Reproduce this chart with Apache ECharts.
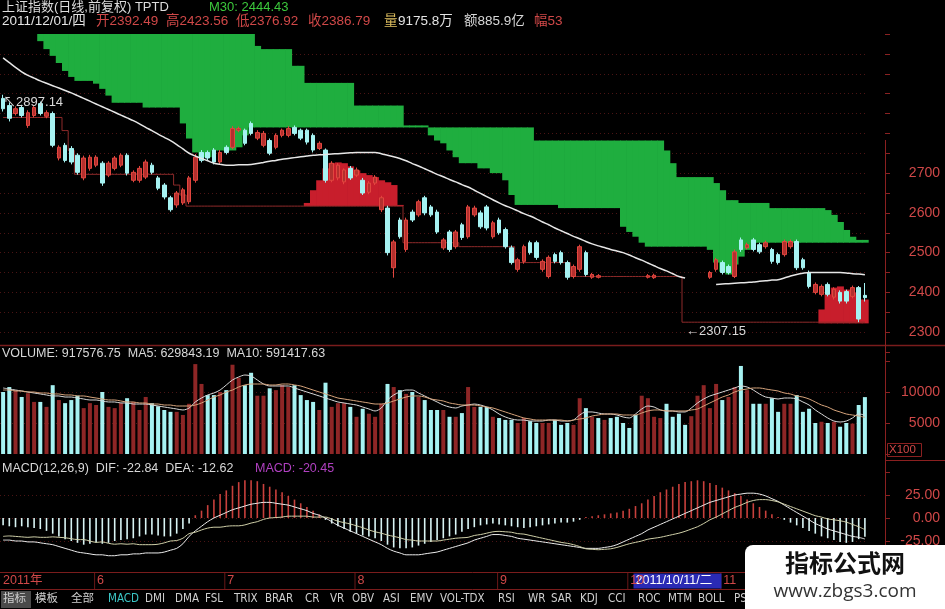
<!DOCTYPE html>
<html><head><meta charset="utf-8">
<script src="https://cdn.jsdelivr.net/npm/echarts@6/dist/echarts.min.js"></script>
<style>html,body{margin:0;padding:0;background:#000;}#c{width:945px;height:609px;}</style>
</head><body><div id="c"></div>
<script>
const N = 140;
// ---- price candles (index 0 .. 139, mid-May 2011 .. 2011/12/01) ----
const opens = [2888,2870,2850,2865,2820,2845,2875,2843,2850,2738,
 2770,2762,2745,2688,2712,2720,2725,2695,2712,2720,
 2745,2682,2682,2690,2720,2688,2670,2638,2620,2625,
 2628,2682,2752,2752,2758,2728,2765,2765,2808,2808,
 2825,2788,2770,2782,2765,2795,2795,2815,2808,2808,
 2795,2762,2758,2682,2688,2678,2712,2695,2682,2652,
 2675,2608,2612,2462,2582,2508,2602,2595,2638,2615,
 2602,2512,2552,2515,2570,2540,2595,2600,2615,2540,
 2582,2558,2512,2458,2478,2525,2525,2458,2440,2495,
 2500,2475,2440,2458,2500,2438,2438,null,null,null,
 null,null,null,null,2438,2437,null,null,null,null,
 null,null,null,null,2438,2458,2475,2465,2440,2532,
 2512,2532,2520,2515,2508,2495,2495,2515,2528,2482,
 2450,2400,2395,2420,2388,2400,2402,2390,2412,2392.49];
const closes = [2862,2838,2862,2845,2852,2865,2850,2852,2770,2765,
 2732,2728,2702,2738,2740,2740,2675,2725,2738,2745,
 2700,2702,2712,2728,2702,2662,2640,2608,2650,2658,
 2688,2740,2732,2738,2728,2752,2752,2812,2812,2775,
 2800,2802,2800,2750,2795,2808,2812,2800,2788,2778,
 2758,2775,2682,2725,2720,2708,2688,2708,2650,2675,
 2690,2638,2500,2527,2540,2582,2582,2628,2600,2595,
 2552,2532,2508,2552,2538,2615,2612,2565,2562,2575,
 2550,2515,2475,2482,2515,2500,2488,2478,2488,2478,
 2475,2438,2465,2515,2445,2445,2442,null,null,null,
 null,null,null,null,2442,2443,null,null,null,null,
 null,null,null,null,2450,2482,2450,2450,2502,2508,
 2520,2508,2502,2525,2478,2475,2528,2528,2462,2462,
 2415,2420,2415,2395,2408,2378,2378,2412,2333,2386.79];
const lows = [2855,2830,2845,2840,2814,2840,2845,2838,2765,2732,
 2727,2722,2696,2682,2706,2715,2668,2690,2707,2715,
 2694,2677,2676,2685,2697,2657,2634,2603,2613,2620,
 2622,2676,2727,2732,2722,2722,2747,2760,2803,2770,
 2795,2783,2765,2745,2760,2790,2790,2795,2783,2772,
 2752,2758,2676,2677,2682,2672,2683,2690,2645,2647,
 2670,2602,2493,2437,2535,2502,2577,2590,2594,2590,
 2547,2507,2502,2510,2532,2535,2590,2560,2556,2535,
 2545,2510,2470,2452,2472,2495,2482,2452,2435,2473,
 2470,2432,2435,2452,2440,2434,2435,null,null,null,
 null,null,null,null,2435,2434,null,null,null,null,
 null,null,null,null,2434,2452,2445,2445,2436,2502,
 2508,2503,2497,2510,2472,2470,2490,2510,2456,2457,
 2410,2395,2390,2390,2382,2372,2372,2385,2325,2376.92];
const highs = [2897.14,2878,2868,2872,2858,2870,2880,2858,2855,2770,
 2776,2768,2750,2744,2746,2745,2730,2730,2743,2750,
 2750,2707,2718,2734,2726,2693,2675,2643,2655,2663,
 2693,2748,2758,2757,2763,2758,2770,2818,2817,2812,
 2830,2808,2806,2787,2800,2812,2818,2820,2812,2812,
 2800,2780,2762,2730,2725,2712,2718,2714,2688,2680,
 2695,2643,2618,2532,2588,2588,2608,2633,2643,2620,
 2608,2537,2557,2557,2575,2620,2618,2606,2620,2580,
 2588,2563,2518,2487,2520,2530,2530,2483,2493,2500,
 2505,2480,2470,2520,2505,2449,2446,null,null,null,
 null,null,null,null,2446,2447,null,null,null,null,
 null,null,null,null,2454,2487,2480,2470,2508,2538,
 2525,2537,2525,2530,2512,2500,2533,2533,2533,2487,
 2455,2425,2420,2425,2413,2405,2407,2417,2416,2423.56];
// ---- M30 line ----
const m30 = [2990,2978,2966,2955,2946,2939,2932,2926,2920,2914,
 2908,2902,2895,2888,2881,2874,2867,2860,2853,2846,
 2839,2832,2824,2815,2807,2798,2790,2782,2772,2761,
 2750,2743,2737,2731,2725,2722,2720,2720,2721,2721,
 2722,2724,2727,2730,2732,2735,2737,2739,2741,2743,
 2745,2746,2747,2748,2749,2750,2751,2752,2752,2752,
 2752,2749,2745,2741,2737,2731,2724,2718,2711,2704,
 2697,2691,2684,2678,2671,2665,2657,2649,2641,2633,
 2625,2618,2612,2605,2598,2592,2585,2577,2570,2562,
 2555,2548,2541,2535,2528,2522,2517,2513,2508,2504,
 2500,2494,2487,2481,2474,2467,2460,2454,2447,2440,
 2436,null,null,null,null,2420,2421,2422,2423,2424,
 2425,2426,2428,2429,2431,2432,2436,2441,2445,2448,
 2450,2450,2450,2450,2450,2450,2449,2447,2446,2444.43];
// ---- stepped base line (red-brown) ----
const baseLine = [2840,2840,2840,2840,2840,2840,2840,2840,2840,2840,
 2807,2757,2697,2697,2697,2697,2697,2697,2697,2697,
 2697,2697,2697,2697,2697,2697,2697,2697,2670,2645,
 2617,2617,2617,2617,2617,2617,2617,2617,2617,2617,
 2617,2617,2617,2617,2617,2617,2617,2617,2617,2617,
 2617,2617,2617,2617,2617,2617,2617,2617,2617,2617,
 2617,2617,2617,2617,2617,2525,2525,2525,2525,2525,
 2525,2525,2525,2525,2515,2515,2515,2515,2515,2515,
 2515,2515,2515,2475,2475,2475,2475,2475,2475,2475,
 2475,2475,2440,2440,2440,2440,2440,2440,2440,2440,
 2440,2440,2440,2440,2440,2440,2440,2440,2440,2440,
 2325,2325,2325,2325,2325,2325,2325,2325,2325,2325,
 2325,2325,2325,2325,2325,2325,2325,2325,2325,2325,
 2325,2325,2325,2325,2325,2325,2325,2325,2325,2325];
// ---- green band (upper / lower edge) ----
const greenTop = [null,null,null,null,null,null,3050,3050,3050,3050,
 3050,3050,3050,3050,3050,3050,3050,3050,3050,3050,
 3050,3050,3050,3050,3050,3050,3050,3050,3050,3050,
 3050,3050,3050,3050,3050,3050,3050,3050,3050,3050,
 3050,3020,3012,3012,3012,3012,3012,2970,2970,2927,
 2927,2927,2927,2927,2927,2927,2927,2870,2870,2870,
 2870,2870,2870,2870,2870,2820,2820,2820,2820,2815,
 2815,2815,2815,2815,2815,2815,2815,2815,2815,2815,
 2815,2815,2815,2815,2815,2815,2782,2782,2782,2782,
 2782,2782,2782,2782,2782,2782,2782,2782,2782,2782,
 2782,2782,2782,2782,2782,2782,2782,2757,2725,2690,
 2690,2690,2690,2690,2690,2675,2657,2632,2632,2625,
 2625,2625,2625,2625,2612,2612,2612,2612,2612,2612,
 2612,2612,2612,2607,2595,2577,2557,2540,2532,2532];
const greenBot = [null,null,null,null,null,null,3032,3012,2995,2977,
 2957,2942,2932,2932,2932,2925,2912,2895,2877,2877,
 2877,2877,2877,2865,2865,2865,2865,2865,2865,2825,
 2787,2752,2740,2740,2757,2757,2757,2757,2765,2795,
 2815,2815,2815,2815,2815,2815,2815,2815,2815,2815,
 2815,2815,2815,2815,2815,2815,2815,2815,2815,2815,
 2815,2815,2815,2815,2815,2815,2815,2815,2815,2795,
 2782,2775,2757,2740,2725,2725,2725,2712,2712,2700,
 2700,2682,2645,2620,2620,2620,2620,2620,2620,2620,
 2612,2612,2612,2612,2612,2612,2612,2612,2612,2612,
 2565,2552,2540,2525,2515,2515,2515,2515,2515,2515,
 2515,2515,2515,2515,2507,2475,2452,2445,2470,2490,
 2507,2525,2525,2525,2525,2525,2525,2525,2525,2525,
 2525,2525,2525,2525,2525,2525,2525,2525,2525,2525];
// ---- red band ----
const redTop = [null,null,null,null,null,null,null,null,null,null,
 null,null,null,null,null,null,null,null,null,null,
 null,null,null,null,null,null,null,null,null,null,
 null,null,null,null,null,null,null,null,null,null,
 null,null,null,null,null,null,null,null,null,2625,
 2657,2682,2712,2725,2727,2725,2717,2707,2700,2695,
 2690,2682,2677,2670,2620,null,null,null,null,null,
 null,null,null,null,null,null,null,null,null,null,
 null,null,null,null,null,null,null,null,null,null,
 null,null,null,null,null,null,null,null,null,null,
 null,null,null,null,null,null,null,null,null,null,
 null,null,null,null,null,null,null,null,null,null,
 null,null,null,null,null,null,null,null,null,null,
 null,null,2357,2395,2412,2415,2407,2400,2382,2382];
const redBot = [null,null,null,null,null,null,null,null,null,null,
 null,null,null,null,null,null,null,null,null,null,
 null,null,null,null,null,null,null,null,null,null,
 null,null,null,null,null,null,null,null,null,null,
 null,null,null,null,null,null,null,null,null,2617,
 2617,2617,2617,2617,2617,2617,2617,2617,2617,2617,
 2617,2617,2617,2617,2617,null,null,null,null,null,
 null,null,null,null,null,null,null,null,null,null,
 null,null,null,null,null,null,null,null,null,null,
 null,null,null,null,null,null,null,null,null,null,
 null,null,null,null,null,null,null,null,null,null,
 null,null,null,null,null,null,null,null,null,null,
 null,null,null,null,null,null,null,null,null,null,
 null,null,2322,2322,2322,2322,2322,2322,2322,2322];
// ---- volume (x100) ----
const vols = [10000,10800,10300,9200,9800,8400,8400,7600,11100,8700,
 8200,8700,9400,7400,8200,7900,10000,7600,7400,8200,
 9000,8400,7100,9200,8200,7700,7100,6800,6800,6300,
 8100,14500,11300,9500,9500,10000,10300,14400,12300,11100,
 13100,9400,9400,10600,10300,11100,10800,11100,9500,8700,
 8400,7100,11500,7600,8200,8200,7600,6000,7300,6500,
 6000,8100,11300,10800,10300,9700,10000,9200,8700,7100,
 7100,7100,6000,6000,6600,10800,7600,7600,7600,6000,
 5800,5500,5500,5000,5800,5300,5000,5000,5000,5500,
 4700,5000,4700,9000,7400,6000,5800,5500,5800,6000,
 5000,4200,6300,9400,9000,6000,5800,8100,6000,6500,
 4700,6100,9400,11100,7400,11300,8700,9200,10800,14200,
 10300,8100,8100,8100,9000,6800,8100,8100,9500,6800,
 7300,5000,5200,5000,5200,4400,5000,4900,7900,9175.77];
const volUp = [0,0,1,0,1,1,0,1,0,1, 0,0,0,1,1,1,0,1,1,1, 0,1,1,1,0,0,0,0,1,1,
 1,1,1,0,0,1,0,1,1,0, 0,1,1,0,1,1,1,0,0,0, 0,1,0,1,1,1,0,1,0,1,
 1,1,0,1,0,1,0,1,0,0, 0,1,0,1,0,1,1,0,0,1, 0,0,0,1,1,0,0,1,1,0,
 0,0,1,1,0,1,0,1,0,0, 0,0,0,1,1,1,1,0,0,0, 0,1,1,1,1,1,0,1,1,0,
 1,0,0,1,0,0,1,1,0,0, 0,0,1,0,1,0,0,1,0,0];
const volMa5 = [10650,10480,10320,10160,10000,9840,9680,9520,9360,9360,
 9190,9190,9030,8870,8710,8710,8550,8390,8390,8230,
 8230,8060,8060,8060,7900,7740,7580,7420,7260,7100,
 7420,8390,9030,9520,9840,10320,11130,11940,12420,12740,
 12580,11940,11290,10970,10970,10970,10970,10650,10320,10000,
 9680,9360,9030,8710,8390,8230,8060,7900,7580,7260,
 6940,7420,8710,9520,10000,10320,10320,9840,9360,8870,
 8390,7900,7580,7420,7740,7900,8060,7900,7580,7100,
 6450,5970,5650,5480,5480,5320,5320,5320,5480,5480,
 5320,5320,5480,6290,6780,6780,6610,6450,6450,6290,
 5970,5810,6450,7260,7740,7580,7100,6940,6940,6780,
 6780,7420,8230,8870,9360,9680,10000,10320,10650,10970,
 10810,10320,9680,9190,9030,8870,9030,9030,8870,8390,
 7900,7100,6450,5810,5320,5160,5320,5810,6450,6298.43];
const volMa10 = [10320,10320,10160,10160,10000,10000,9840,9840,9680,9680,
 9520,9520,9360,9360,9190,9030,8870,8710,8710,8550,
 8390,8390,8230,8230,8060,8060,7900,7900,7740,7740,
 7740,7900,8230,8710,9190,9520,10000,10320,10810,11130,
 11290,11290,11290,11130,11130,11290,11290,11130,10970,10650,
 10320,10000,9680,9360,9030,8870,8710,8550,8390,8230,
 8060,8060,8230,8550,8870,9190,9360,9360,9190,8870,
 8710,8550,8230,8060,7900,7900,7900,7740,7580,7420,
 7100,6780,6450,6130,5810,5650,5480,5480,5480,5480,
 5480,5320,5480,5650,5810,6130,6290,6450,6450,6450,
 6290,6290,6290,6610,6940,7100,7100,6940,6940,6940,
 6940,7100,7260,7740,8230,8710,9190,9520,10000,10320,
 10480,10650,10650,10480,10320,10160,9840,9680,9360,9190,
 8870,8390,7900,7580,7100,6780,6450,6290,6130,5914.18];
// ---- MACD(12,26,9) ----
const macdHist = [-8,-9,-10,-9,-10,-11,-12,-14,-17,-20,
 -23,-25,-27,-29,-28,-27,-28,-27,-25,-24,
 -23,-22,-20,-18,-18,-19,-20,-20,-17,-12,
 -6,3,8,14,20,26,30,35,39,41,
 41,40,37,34,31,28,24,20,16,12,
 8,4,-2,-6,-9,-12,-15,-17,-19,-20,
 -22,-25,-29,-32,-33,-33,-32,-30,-28,-26,
 -24,-22,-20,-18,-15,-12,-10,-8,-7,-6,
 -7,-8,-9,-10,-11,-10,-9,-8,-7,-6,
 -5,-5,-4,-2,1,2,3,4,5,6,
 8,10,13,16,20,24,28,31,34,37,
 39,40,41,40,38,36,33,30,27,24,
 20,16,12,8,4,1,-2,-5,-8,-11,
 -14,-17,-20,-22,-24,-26,-27,-26,-23,-20.45];
const dif = [-24,-24,-25,-25,-26,-26,-27,-28,-29,-31,
 -33,-35,-37,-38,-39,-40,-40,-41,-41,-40,
 -40,-39,-39,-38,-38,-38,-37,-35,-33,-28,
 -20,-14,-9,-4,0,3,6,9,11,13,
 15,16,17,17,16,15,14,12,10,8,
 5,3,0,-4,-8,-11,-14,-17,-20,-23,
 -26,-29,-33,-36,-38,-40,-40,-40,-39,-38,
 -37,-35,-33,-31,-29,-27,-24,-22,-20,-18,
 -18,-19,-20,-22,-23,-24,-25,-26,-27,-28,
 -29,-30,-31,-32,-33,-33,-33,-32,-31,-29,
 -26,-23,-20,-17,-13,-10,-7,-4,-1,2,
 5,8,11,14,17,19,21,23,25,26,
 27,27,26,24,21,18,14,10,6,2,
 -2,-6,-9,-12,-14,-16,-18,-20,-21,-22.84];
const dea = [-20,-19.5,-20,-20.5,-21,-20.5,-21,-21,-20.5,-21,
 -21.5,-22.5,-23.5,-23.5,-25,-26.5,-26,-27.5,-28.5,-28,
 -28.5,-28,-29,-29,-29,-28.5,-27,-25,-24.5,-22,
 -17,-15.5,-13,-11,-10,-10,-9,-8.5,-8.5,-7.5,
 -5.5,-4,-1.5,0,0.5,1,2,2,2,2,
 1,1,1,-1,-3.5,-5,-6.5,-8.5,-10.5,-13,
 -15,-16.5,-18.5,-20,-21.5,-23.5,-24,-25,-25,-25,
 -25,-24,-23,-22,-21.5,-21,-19,-18,-16.5,-15,
 -14.5,-15,-15.5,-17,-17.5,-19,-20.5,-22,-23.5,-25,
 -26.5,-27.5,-29,-31,-33.5,-34,-34.5,-34,-33.5,-32,
 -30,-28,-26.5,-25,-23,-22,-21,-19.5,-18,-16.5,
 -14.5,-12,-9.5,-6,-2,1,4.5,8,11.5,14,
 17,19,20,20,19,17.5,15,12.5,10,7.5,
 5,2.5,1,-1,-2,-3,-4.5,-7,-9.5,-12.62];
// ---- axis / label texts ----
const monthMarks = [[0,'2011年'],[15,'6'],[36,'7'],[57,'8'],[80,'9'],[101,'10'],[116,'11']];
const cursorMark = [102,'2011/10/11/二'];
const tabs = [['指标',3],['模板',35],['全部',71],['MACD',108],['DMI',145],['DMA',175],['FSL',205],['TRIX',234],['BRAR',265],['CR',305],['VR',330],['OBV',352],['ASI',383],['EMV',410],['VOL-TDX',440],['RSI',498],['WR',528],['SAR',551],['KDJ',580],['CCI',608],['ROC',638],['MTM',668],['BOLL',698],['PS',734]];
const highMark = [0, 2897.14];
const lowMark = [110, 2307.15];

const FONT = "'Liberation Sans','Noto Sans CJK SC',sans-serif";
const RED_TXT = '#d04848';
const cats = Array.from({length:N},(_,i)=>String(i));
const candleData = opens.map((o,i)=> o==null ? '-' : [o, closes[i], lows[i], highs[i]]);

function band(tops, bots, color){
  const data=[];
  for(let i=0;i<N;i++) if(tops[i]!=null && bots[i]!=null) data.push([i,tops[i],bots[i]]);
  return {type:'custom', xAxisIndex:0, yAxisIndex:0, z:1, silent:true, data,
    encode:{x:0,y:[1,2]},
    renderItem(params, api){
      const a=api.coord([api.value(0),api.value(1)]);
      const b=api.coord([api.value(0),api.value(2)]);
      const w=api.size([1,0])[0];
      return {type:'rect', shape:{x:a[0]-w/2, y:Math.min(a[1],b[1]), width:w+0.7, height:Math.abs(b[1]-a[1])}, style:{fill:color}};
    }};
}
function dimCols(n, first, last){ const a=[]; for(let i=0;i<n;i++) a.push((i===0&&first)||(i===n-1&&last)?'rgba(0,0,0,0)':'#4a1414'); return a; }

const chart = echarts.init(document.getElementById('c'), null, {renderer:'canvas'});
const option = {
  backgroundColor:'#000', animation:false,
  grid:[
    {left:0, width:868, top:34, height:318, containLabel:false, outerBoundsMode:'none'},
    {left:0, width:868, top:361, height:93, containLabel:false, outerBoundsMode:'none'},
    {left:0, width:868, top:472, height:92, containLabel:false, outerBoundsMode:'none'}
  ],
  xAxis:[0,1,2].map(g=>({type:'category', gridIndex:g, data:cats, boundaryGap:true, show:false})),
  yAxis:[
    {gridIndex:0, position:'right', offset:17, min:2250, max:3050, interval:50, scale:true,
     axisLine:{show:false}, axisTick:{show:true, length:5, lineStyle:{color:'#8a2222'}},
     axisLabel:{color:RED_TXT, fontSize:14, fontFamily:FONT, align:'right', margin:55,
       formatter:v=>(v>=2300&&v<=2700&&v%100===0)?String(v):''},
     splitLine:{show:true, lineStyle:{type:[1,3], color:dimCols(17,true,true)}}},
    {gridIndex:1, position:'right', offset:17, min:0, max:15000, interval:5000,
     axisLine:{show:false}, axisTick:{show:true, length:5, lineStyle:{color:'#8a2222'}},
     axisLabel:{color:RED_TXT, fontSize:14, fontFamily:FONT, align:'right', margin:55,
       formatter:v=>(v===5000||v===10000)?String(v):''},
     splitLine:{show:true, lineStyle:{type:[1,3], color:dimCols(4,true,true)}}},
    {gridIndex:2, position:'right', offset:17, min:-50, max:50, interval:25,
     axisLine:{show:false}, axisTick:{show:true, length:5, lineStyle:{color:'#8a2222'}},
     axisLabel:{color:RED_TXT, fontSize:14, fontFamily:FONT, align:'right', margin:55,
       formatter:v=>(Math.abs(v)<=25)?v.toFixed(2):''},
     splitLine:{show:true, lineStyle:{type:[1,3], color:dimCols(5,true,true)}}}
  ],
  series:[
    band(greenTop, greenBot, '#1fae3f'),
    band(redTop, redBot, '#c81e2c'),
    {type:'line', xAxisIndex:0, yAxisIndex:0, data:baseLine, step:'middle', symbol:'none', z:3,
     lineStyle:{color:'#8e2a2a', width:1}},
    {type:'candlestick', xAxisIndex:0, yAxisIndex:0, data:candleData, barWidth:4, z:5,
     itemStyle:{color:'#b3302e', color0:'#a6f2f2', borderColor:'#e2463f', borderColor0:'#a6f2f2', borderWidth:1}},
    {type:'line', xAxisIndex:0, yAxisIndex:0, data:m30, symbol:'none', z:6, smooth:0.3,
     lineStyle:{color:'#e6e6e6', width:1.5}},
    {type:'bar', xAxisIndex:1, yAxisIndex:1, data:vols, barWidth:4, z:3,
     itemStyle:{color:p=>volUp[p.dataIndex]?'#8e2626':'#a6f2f2'}},
    {type:'line', xAxisIndex:1, yAxisIndex:1, data:volMa5, symbol:'none', z:4, smooth:0.3,
     lineStyle:{color:'#d8d8d8', width:1}},
    {type:'line', xAxisIndex:1, yAxisIndex:1, data:volMa10, symbol:'none', z:4, smooth:0.3,
     lineStyle:{color:'#d6a47c', width:1}},
    {type:'bar', xAxisIndex:2, yAxisIndex:2, data:macdHist, barWidth:1.6, z:3,
     itemStyle:{color:p=>p.value>=0?'#c8403c':'#d8f4f4'}},
    {type:'line', xAxisIndex:2, yAxisIndex:2, data:dif, symbol:'none', z:4, smooth:0.3,
     lineStyle:{color:'#ececec', width:1}},
    {type:'line', xAxisIndex:2, yAxisIndex:2, data:dea, symbol:'none', z:4, smooth:0.3,
     lineStyle:{color:'#cfcfa8', width:1}}
  ]
};
chart.setOption(option);

function T(x,y,text,fill,size,extra){
  return Object.assign({type:'text', x, y, z:100, silent:true,
    style:Object.assign({text, fill, font:size+'px '+FONT, verticalAlign:'top', textVerticalAlign:'top'}, (extra&&extra.style)||{})},
    extra&&extra.el||{});
}
function L(x1,y1,x2,y2,stroke,w){ return {type:'line', z:90, silent:true, shape:{x1,y1,x2,y2}, style:{stroke, lineWidth:w||1}}; }

const els = [];
// header
els.push(T(2,1,'上证指数(日线,前复权) TPTD','#dcdcdc',13));
els.push(T(209,1,'M30: 2444.43','#3cc83c',13));
els.push(T(2,15,'2011/12/01/四','#e4e4e4',13.5));
els.push(T(96,15,'开2392.49',RED_TXT,13.5));
els.push(T(166,15,'高2423.56',RED_TXT,13.5));
els.push(T(236,15,'低2376.92',RED_TXT,13.5));
els.push(T(308,15,'收2386.79',RED_TXT,13.5));
els.push(T(384,15,'量','#e0c060',13.5));
els.push(T(398,15,'9175.8万','#e4e4e4',13.5));
els.push(T(464,15,'额885.9亿','#d8d8d8',13.5));
els.push(T(534,15,'幅53',RED_TXT,13.5));
// pane titles
els.push(T(2,347,'VOLUME: 917576.75  MA5: 629843.19  MA10: 591417.63','#d8d8d8',12.5));
els.push(T(2,462,'MACD(12,26,9)  DIF: -22.84  DEA: -12.62','#d8d8d8',12.5));
els.push(T(255,462,'MACD: -20.45','#b040c0',12.5));
// separators / frame
els.push(L(0,345.5,945,345.5,'#7a1c1c',1.5));
els.push(L(885.5,140,885.5,572,'#8a2020',1));
els.push(L(885,460.5,945,460.5,'#8a2020',1));
els.push({type:'rect', z:90, silent:true, shape:{x:887.5,y:443.5,width:34,height:13}, style:{fill:'none', stroke:'#8a2020', lineWidth:1}});
els.push(T(889,444,'X100',RED_TXT,11.5));
els.push(L(0,572.5,945,572.5,'#7a1c1c',1));
els.push(L(0,589.5,945,589.5,'#7a1c1c',1));
// price extremes
const hp = chart.convertToPixel({xAxisIndex:0,yAxisIndex:0},[highMark[0],highMark[1]]);
els.push(T(hp[0],hp[1]+1,'↖'+highMark[1].toFixed(2),'#d8d8d8',13));
const lp = chart.convertToPixel({xAxisIndex:0,yAxisIndex:0},[lowMark[0],lowMark[1]]);
els.push(T(lp[0]+1,lp[1]-4,'←'+lowMark[1].toFixed(2),'#d8d8d8',13));
// date row
monthMarks.forEach(([i,t])=>{
  const x = chart.convertToPixel({xAxisIndex:2}, i);
  if(i>0) els.push(L(x-1.5,573,x-1.5,589,'#6a1818',1));
  els.push(T(i===0?3:x+1,574,t,RED_TXT,12.5));
});
{
  const x = chart.convertToPixel({xAxisIndex:2}, cursorMark[0]);
  els.push({type:'rect', z:95, silent:true, shape:{x:x-2,y:573.5,width:88,height:15}, style:{fill:'#2a2ab4'}});
  els.push(T(x,574,cursorMark[1],'#ffffff',12.5,{el:{z:96}}));
}
// tabs
els.push({type:'rect', z:95, silent:true, shape:{x:1,y:591,width:30,height:17}, style:{fill:'#4a4a4a'}});
tabs.forEach(([t,x])=>{
  els.push(T(x,593,t,t==='MACD'?'#3cc8c8':'#cfcfcf',11.5,{style:{font:"11.5px 'DejaVu Sans Condensed','Noto Sans CJK SC',sans-serif"}, el:{z:96}}));
});
// watermark
els.push({type:'rect', z:200, silent:true, shape:{x:745,y:545,width:200,height:64,r:[8,0,0,0]}, style:{fill:'#ffffff'}});
els.push({type:'text', z:201, silent:true, x:845, y:551, style:{text:'指标公式网', fill:'#111', font:"bold 24px 'Noto Sans CJK SC',sans-serif", align:'center', textAlign:'center', verticalAlign:'top', textVerticalAlign:'top'}});
els.push({type:'text', z:201, silent:true, x:845, y:582, style:{text:'www.zbgs3.com', fill:'#333', font:"19px 'Open Sans','Liberation Sans',sans-serif", align:'center', textAlign:'center', verticalAlign:'top', textVerticalAlign:'top'}});

chart.setOption({graphic:{elements:els}});
</script></body></html>
